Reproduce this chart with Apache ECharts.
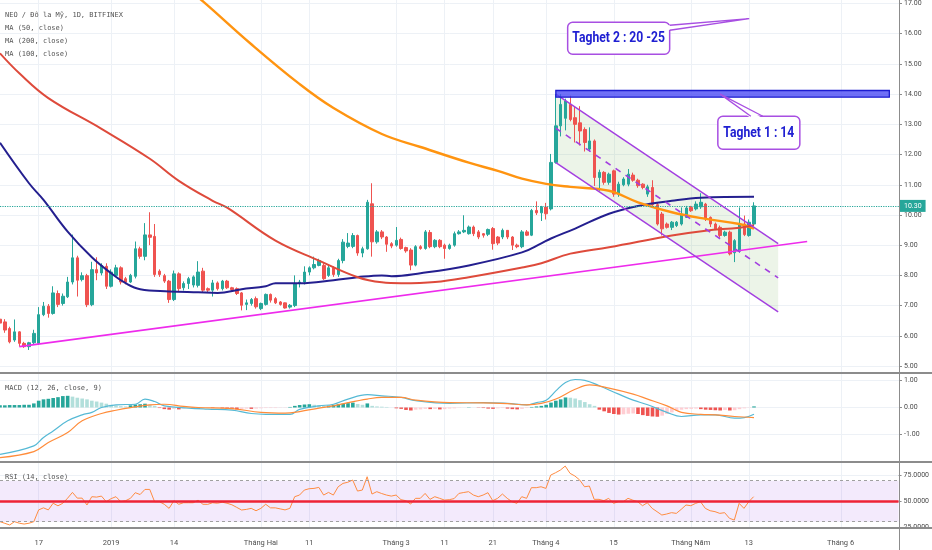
<!DOCTYPE html>
<html><head><meta charset="utf-8">
<script src="https://cdn.jsdelivr.net/npm/echarts@6/dist/echarts.min.js"></script>
<style>html,body{margin:0;padding:0;background:#fff}#c{width:932px;height:550px}</style>
</head><body><div id="c"></div>
<script>
// ---------- categories (daily, 2018-12-09 .. 2019-06-13) ----------
const startYear = 2018, startMonth = 11, startDay = 9;
const dayCount = 187;
const categories = [];
for (let k = 0; k < dayCount; k++) {
  categories.push(new Date(Date.UTC(startYear, startMonth, startDay + k)).toISOString().slice(0, 10));
}
const tickDates = ['2018-12-17','2019-01-01','2019-01-14','2019-02-01','2019-02-11','2019-03-01','2019-03-11','2019-03-21','2019-04-01','2019-04-15','2019-05-01','2019-05-13','2019-06-01'];
const tickLabels = ['17','2019','14','Tháng Hai','11','Tháng 3','11','21','Tháng 4','15','Tháng Năm','13','Tháng 6'];

// ---------- candles ----------
const opens = [6.55,6.46,6.24,5.86,6.13,5.75,5.64,5.77,5.75,6.70,
6.98,6.74,7.40,7.07,7.29,7.78,8.58,7.86,7.99,7.03,
8.19,8.08,8.30,7.64,8.00,8.25,7.89,7.78,7.97,8.88,
8.63,9.34,9.29,8.14,7.99,7.81,7.20,8.05,7.59,7.73,
7.68,7.67,8.14,7.56,7.51,7.75,7.56,7.81,7.59,7.56,
7.42,7.04,7.07,7.23,6.90,7.04,7.37,7.23,7.12,7.09,
6.95,7.00,7.73,7.78,8.11,8.25,8.33,8.33,8.00,8.25,
8.03,8.49,8.96,8.96,9.32,8.74,8.88,10.37,9.11,9.44,
9.27,9.05,9.00,9.19,8.92,8.84,8.34,8.95,8.89,9.42,
8.95,9.16,9.00,8.89,9.00,9.38,9.44,9.38,9.60,9.44,
9.38,9.36,9.55,9.27,9.27,9.49,9.27,9.00,8.95,9.44,
9.33,10.15,10.07,10.26,10.20,11.74,12.95,13.20,13.66,13.22,
13.05,12.83,12.18,12.45,11.24,11.41,11.08,11.46,10.69,11.00,
11.02,11.32,11.15,11.02,10.69,10.91,10.34,10.03,9.70,9.59,
9.65,9.70,9.92,10.25,10.20,10.27,10.36,9.92,9.70,9.59,
9.32,9.43,8.75,8.80,9.70,9.32,9.70];
const closes = [6.42,6.19,5.80,6.13,5.75,5.64,5.77,6.08,6.70,6.98,
6.74,7.42,7.04,7.31,7.78,8.58,7.84,7.99,7.03,8.19,
8.08,8.33,7.64,8.11,8.25,7.78,7.78,8.00,8.88,8.63,
9.34,9.26,8.03,8.03,7.81,7.20,8.05,7.56,7.73,7.89,
7.95,8.11,7.51,7.51,7.75,7.56,7.81,7.59,7.53,7.40,
7.01,7.09,7.20,6.96,7.07,7.37,7.18,7.09,7.04,6.92,
7.01,7.73,7.78,8.11,8.25,8.36,8.49,7.89,8.25,8.03,
8.49,9.10,9.07,9.32,8.74,8.88,10.42,9.11,9.44,9.27,
9.03,8.97,9.16,8.89,8.81,8.34,8.95,8.89,9.44,8.95,
9.16,8.95,8.89,9.00,9.38,9.44,9.49,9.60,9.38,9.27,
9.33,9.52,9.05,9.07,9.49,9.27,9.00,8.95,9.44,9.33,
10.15,10.07,10.26,10.04,11.74,12.95,13.66,13.77,13.16,13.00,
12.78,12.40,12.45,11.24,11.41,11.08,11.35,10.69,11.02,11.19,
11.35,11.15,10.97,10.91,10.93,10.34,9.70,9.54,9.59,9.76,
9.76,10.03,10.23,10.14,10.36,10.42,9.87,9.70,9.54,9.32,
9.43,8.71,9.15,9.70,9.35,9.76,10.30];
const lows = [6.30,6.10,5.75,5.80,5.64,5.60,5.53,5.70,5.70,6.65,
6.60,6.70,6.95,7.00,7.25,7.70,7.30,7.80,6.95,6.98,
7.84,8.00,7.55,7.60,7.95,7.70,7.70,7.75,7.90,8.55,
8.50,9.00,7.95,7.95,7.75,7.09,7.15,7.45,7.50,7.55,
7.60,7.60,7.45,7.45,7.30,7.50,7.50,7.55,7.48,7.35,
6.84,6.85,7.00,6.90,6.85,7.00,7.10,7.05,7.00,6.90,
6.90,6.95,7.60,7.70,8.00,8.20,8.30,7.85,7.95,7.95,
7.95,8.40,8.90,8.90,8.65,8.60,8.85,8.62,9.05,9.20,
8.78,8.90,8.95,8.85,8.75,8.17,8.30,8.85,8.85,8.90,
8.90,8.90,8.55,8.85,8.95,9.35,9.40,9.35,9.30,9.20,
9.25,9.30,8.85,9.00,9.20,9.20,8.84,8.90,8.90,9.30,
9.30,10.00,9.80,9.85,10.15,11.70,12.60,12.80,13.10,12.40,
12.30,12.10,12.10,10.96,10.80,11.00,11.00,10.60,10.60,10.95,
10.95,11.10,10.90,10.85,10.60,10.30,9.65,9.32,9.55,9.50,
9.60,9.65,9.90,10.10,10.15,10.20,9.80,9.60,9.50,9.25,
9.28,8.66,8.44,8.75,9.30,9.28,9.65];
const highs = [6.65,6.55,6.30,6.54,6.15,5.80,5.80,6.20,6.95,7.12,
7.05,7.64,7.50,7.40,7.95,9.35,8.65,8.10,8.05,8.45,
8.60,8.40,8.40,8.20,8.35,8.30,7.95,8.05,9.12,8.95,
9.73,10.09,9.70,8.20,8.05,7.85,8.16,8.10,7.80,7.95,
8.00,8.47,8.25,7.60,7.85,7.80,7.85,7.85,7.62,7.60,
7.45,7.20,7.25,7.30,7.10,7.40,7.40,7.28,7.15,7.10,
7.05,8.00,7.85,8.30,8.30,8.62,8.55,8.40,8.35,8.30,
8.55,9.20,9.40,9.40,9.35,8.95,10.50,11.05,9.50,9.50,
9.30,9.10,9.60,9.25,8.95,8.90,9.00,9.00,9.50,9.50,
9.20,9.20,9.05,9.05,9.45,9.50,9.99,9.65,9.65,9.50,
9.40,9.55,9.60,9.30,9.55,9.50,9.30,9.05,9.50,9.50,
10.20,10.45,10.30,10.40,12.02,14.00,14.00,13.85,13.95,13.60,
13.60,12.90,12.90,12.50,11.50,11.45,11.40,11.50,11.10,11.25,
11.52,11.40,11.20,11.05,11.00,11.15,10.40,10.10,9.75,9.80,
9.80,10.25,10.30,10.30,10.45,10.72,10.40,9.95,9.75,9.65,
9.48,9.48,9.20,10.25,9.98,9.85,10.42];
const lastPrice = 10.30;

// ---------- moving averages, read at [day index, value] ----------
const ma50 = [[0,12.39],[6,11.05],[9,10.5],[14,9.45],[19,8.6],[23,8.07],[26,7.74],[29,7.54],[35,7.47],[41,7.44],[45,7.42],[50,7.54],[55,7.64],[57,7.74],[62,7.74],[69,7.84],[74,7.94],[79,8.0],[81,7.97],[87,8.07],[97,8.33],[108,8.76],[112,9.06],[114,9.22],[119,9.55],[126,10.04],[132,10.3],[139,10.47],[145,10.57],[156,10.6]];
const ma200 = [[39,17.45],[42,17.07],[52,15.65],[62,14.33],[69,13.54],[79,12.68],[87,12.25],[97,11.73],[103,11.46],[108,11.2],[113,11.03],[118,10.93],[126,10.8],[132,10.42],[139,10.09],[146,9.87],[153,9.70],[156,9.55]];
const ma100 = [[0,15.35],[4,14.69],[10,13.87],[21,12.85],[31,11.86],[37,11.13],[44,10.47],[47,10.24],[57,9.15],[66,8.49],[74,7.94],[79,7.77],[83,7.74],[90,7.78],[97,7.94],[108,8.26],[112,8.4],[118,8.72],[126,8.93],[139,9.32],[146,9.48],[153,9.58],[156,9.66]];

// ---------- MACD ----------
const macdHist = [0.08,0.08,0.09,0.09,0.09,0.10,0.10,0.15,0.25,0.30,
0.32,0.35,0.38,0.42,0.43,0.40,0.36,0.33,0.30,0.25,
0.22,0.18,0.14,0.10,0.07,0.05,0.04,0.08,0.11,0.12,
0.14,0.10,0.06,-0.02,-0.06,-0.08,-0.05,-0.07,-0.04,-0.02,
-0.03,-0.05,-0.02,-0.01,-0.02,-0.01,-0.03,-0.05,-0.06,-0.07,
-0.05,-0.04,-0.05,-0.04,-0.03,-0.02,-0.02,-0.02,-0.01,-0.01,
0.02,0.06,0.09,0.11,0.12,0.10,0.08,0.06,0.07,0.10,
0.12,0.14,0.16,0.18,0.13,0.10,0.15,0.06,0.04,0.03,
0.02,0.00,-0.03,-0.05,-0.09,-0.11,-0.08,-0.07,-0.05,-0.06,
-0.05,-0.07,-0.06,-0.04,-0.03,-0.01,0.00,0.01,0.00,-0.01,
-0.02,-0.04,-0.05,-0.03,-0.02,-0.04,-0.06,-0.07,-0.05,-0.02,
0.02,0.04,0.06,0.10,0.18,0.25,0.30,0.37,0.36,0.33,
0.27,0.20,0.12,0.06,-0.08,-0.14,-0.20,-0.24,-0.26,-0.25,
-0.23,-0.22,-0.24,-0.28,-0.31,-0.33,-0.34,-0.30,-0.24,-0.18,
-0.12,-0.08,-0.06,-0.05,-0.04,-0.06,-0.08,-0.09,-0.10,-0.11,
-0.09,-0.11,-0.10,-0.06,-0.03,-0.01,0.04];
const macdLine = [[0,-1.72],[7,-1.41],[9,-1.10],[11,-0.86],[14,-0.49],[17,-0.27],[19,-0.18],[21,0.0],[24,0.10],[28,0.12],[30,0.31],[32,0.22],[34,0.06],[39,-0.02],[43,-0.06],[48,-0.10],[52,-0.22],[55,-0.25],[60,-0.25],[62,-0.07],[66,0.06],[69,0.12],[72,0.31],[76,0.47],[79,0.43],[83,0.37],[86,0.25],[93,0.15],[100,0.18],[105,0.15],[109,0.10],[111,0.18],[113,0.27],[115,0.61],[117,0.92],[119,1.03],[121,1.0],[124,0.8],[128,0.49],[131,0.27],[134,0.10],[138,-0.18],[141,-0.33],[145,-0.27],[148,-0.27],[152,-0.39],[154,-0.37],[156,-0.25]];
const signalLine = [[0,-1.84],[7,-1.62],[10,-1.29],[14,-0.92],[17,-0.49],[21,-0.22],[24,-0.10],[28,0.02],[31,0.10],[34,0.12],[38,0.04],[41,0.0],[48,-0.04],[54,-0.18],[59,-0.21],[62,-0.15],[66,-0.02],[69,0.06],[72,0.18],[76,0.31],[79,0.37],[83,0.37],[86,0.27],[93,0.18],[100,0.17],[105,0.14],[109,0.10],[112,0.15],[115,0.31],[119,0.67],[122,0.83],[126,0.71],[131,0.49],[134,0.31],[138,0.06],[141,-0.18],[145,-0.25],[148,-0.27],[152,-0.33],[156,-0.37]];

// ---------- RSI ----------
const rsi = [30,28.4,26.8,30,28.5,27.7,28.5,30,41.5,43.5,
41.5,48,45.5,48,53,58.6,53,53,46.3,54.4,
54,55,49.5,52.5,54.4,49.5,50.5,52.8,58.3,56.5,
61.5,61.5,49.5,49.5,47,43,50.5,47,48.5,48.5,
48.5,51,47,46.9,48.5,48,49,48,46.5,44,
41.4,42,43,40.7,43,47,43.5,43.5,42.5,41.5,
43,54.4,56,60.9,62.2,62.5,63.5,56,58.6,56,
64.1,67.4,68.5,70.7,59.9,60.9,73.9,57,59.3,57.5,
56,55,56,51.5,50.5,47.2,52.8,52.8,57.6,51.8,
54.4,52.8,51.1,51.5,52.5,57.6,58.5,59.3,56,54.4,
56,58.3,50.5,52.8,57,52.8,49.5,47.9,54.4,52.8,
63.2,63.2,64.1,62.5,75.5,77.8,80.4,84.3,77.2,74.6,
70.7,64.1,64.8,51.8,51.8,50.5,52.8,47.9,49.5,49.5,
52.8,51,49.5,45.6,48.5,43,39.8,36.5,37.5,38.8,
38.1,42,46.3,45.6,47.9,49.5,43,40.7,39.8,38.1,
38.8,33.3,31.6,47.9,43,49.5,54.4];
const rsiUpper = 70, rsiMid = 50, rsiLower = 30;

// ---------- drawings (in [day index, price]) ----------
const channelUpper = [[115,14.0],[161,9.05]];
const channelLower = [[115,11.73],[161,6.79]];
const channelMid = [[115,12.87],[161,7.92]];
const supportLine = [[4,5.64],[167,9.12]];
const targetZone = [[115,14.12],[184,13.9]];
const calloutTexts = ['Taghet 1 : 14','Taghet 2 : 20 -25'];
const calloutTips = [[149,14.0],[155,16.5]];
const calloutBoxes = [[157,12.72],[128,15.85]];

// ---------- build ----------
const candleData = opens.map((o, k) => [o, closes[k], lows[k], highs[k]]);
const tickMap = {};
tickDates.forEach((d, j) => { tickMap[d] = tickLabels[j]; });
const isTick = (idx, val) => tickMap[val] !== undefined;

const UP = '#26a69a', DOWN = '#ef5350';
const PURPLE = '#a33ee0';
const GRIDC = '#edf1f6';
const AXC = '#8c8c8c';
const lblStyle = { fontSize: 7, color: '#4a4a4a', fontFamily: 'Roboto' };

const chart = echarts.init(document.getElementById('c'), null, { renderer: 'canvas' });

function renderFill(params, api) {
  const c = p => api.coord(p);
  return { type: 'polygon', shape: { points: [c(channelUpper[0]), c(channelUpper[1]), c(channelLower[1]), c(channelLower[0])] },
    style: { fill: 'rgba(120,180,95,0.14)', stroke: null } };
}

function renderAnnot(params, api) {
  const c = p => api.coord(p);
  const kids = [];
  const seg = (pts, stroke, w, dash) => ({ type: 'polyline', shape: { points: pts.map(c) },
    style: { stroke: stroke, lineWidth: w, fill: 'none', lineDash: dash || null } });
  kids.push(seg(supportLine, '#ee2bec', 1.6));
  kids.push(seg(channelUpper, PURPLE, 1.4));
  kids.push(seg(channelLower, PURPLE, 1.4));
  kids.push(seg(channelMid, PURPLE, 1.6, [6, 6]));
  const a = c(targetZone[0]), b = c(targetZone[1]);
  kids.push({ type: 'rect', shape: { x: a[0], y: a[1], width: b[0] - a[0], height: b[1] - a[1] },
    style: { fill: 'rgba(72,72,245,0.78)', stroke: '#1d1dd0', lineWidth: 1.3 } });
  const boxSize = [[82, 33], [102, 32]];
  calloutTexts.forEach((txt, k) => {
    const tip = c(calloutTips[k]);
    const bc = c(calloutBoxes[k]);
    const w = boxSize[k][0], h = boxSize[k][1];
    let b1, b2, in1, in2;
    if (k === 0) {
      b1 = [bc[0] - 8, bc[1] - h / 2]; b2 = [bc[0] + 4, bc[1] - h / 2];
      in1 = [b1[0], b1[1] + 2]; in2 = [b2[0], b2[1] + 2];
    } else {
      b1 = [bc[0] + w / 2, bc[1] - 13]; b2 = [bc[0] + w / 2, bc[1] - 8];
      in1 = [b1[0] - 2, b1[1]]; in2 = [b2[0] - 2, b2[1]];
    }
    kids.push({ type: 'rect', shape: { x: bc[0] - w / 2, y: bc[1] - h / 2, width: w, height: h, r: 5 },
      style: { fill: '#ffffff', stroke: '#a84fe2', lineWidth: 1.5 } });
    kids.push({ type: 'polygon', shape: { points: [tip, in1, in2] }, style: { fill: '#ffffff', stroke: null } });
    kids.push({ type: 'polyline', shape: { points: [b1, tip, b2] }, style: { stroke: '#a84fe2', lineWidth: 1.3, fill: 'none' } });
    kids.push({ type: 'text', x: bc[0], y: bc[1] + 0.5, scaleX: 0.81,
      style: { x: 0, y: 0, text: txt, fill: '#2020d2', font: 'bold 15px Roboto', align: 'center', verticalAlign: 'middle', textAlign: 'center', textVerticalAlign: 'middle' } });
  });
  return { type: 'group', children: kids };
}

const xBase = (gi, extra) => Object.assign({
  type: 'category', gridIndex: gi, data: categories, boundaryGap: false,
  axisLine: { show: false }, axisTick: { show: false }, axisLabel: { show: false },
  splitLine: { show: false }, axisPointer: { show: false }
}, extra || {});

const yBase = (gi, min, max, interval, dec, extra) => Object.assign({
  type: 'value', gridIndex: gi, position: 'right', min: min, max: max, interval: interval,
  axisLine: { show: false },
  axisTick: { show: true, length: 3, lineStyle: { color: AXC } },
  axisLabel: Object.assign({ margin: 5, formatter: v => v.toFixed(dec) }, lblStyle),
  splitLine: { show: true, lineStyle: { color: GRIDC, width: 1 } }
}, extra || {});

const option = {
  animation: false,
  backgroundColor: '#ffffff',
  textStyle: { fontFamily: 'Roboto' },
  grid: [
    { left: 0, right: 33, top: 0, height: 528 },
    { left: 0, right: 33, top: 2, height: 364 },
    { left: 0, right: 33, top: 380.3, height: 54.4 },
    { left: 0, right: 33, top: 475.6, height: 51.2 }
  ],
  xAxis: [
    xBase(0, { splitLine: { show: true, interval: isTick, lineStyle: { color: GRIDC, width: 1 } } }),
    xBase(1),
    xBase(2),
    xBase(3, { axisLabel: Object.assign({ show: true, interval: isTick, margin: 12, formatter: v => tickMap[v] || '' }, lblStyle, { fontSize: 7.5, color: '#4f4f4f' }) })
  ],
  yAxis: [
    { type: 'value', gridIndex: 0, show: false, min: 0, max: 1 },
    yBase(1, 5, 17, 1, 2),
    yBase(2, -1, 1, 1, 2),
    yBase(3, 25, 75, 25, 4)
  ],
  series: [
    { type: 'custom', name: 'channelFill', xAxisIndex: 1, yAxisIndex: 1, z: 1, silent: true, data: [[0, 0]], renderItem: renderFill },
    {
      type: 'candlestick', name: 'NEO/USD', xAxisIndex: 1, yAxisIndex: 1, z: 3, barWidth: 3,
      data: candleData,
      itemStyle: { color: UP, color0: DOWN, borderColor: UP, borderColor0: DOWN, borderWidth: 1 },
      markLine: {
        silent: true, symbol: 'none', animation: false,
        lineStyle: { color: UP, type: 'dotted', width: 1.2 },
        label: { show: true, position: 'end', distance: 1, formatter: () => lastPrice.toFixed(2),
          backgroundColor: UP, color: '#fff', padding: [3, 4, 2, 4], fontSize: 7, fontFamily: 'Roboto' },
        data: [{ yAxis: lastPrice }]
      }
    },
    { type: 'line', name: 'MA (50, close)', xAxisIndex: 1, yAxisIndex: 1, z: 4, data: ma50, smooth: 0.4, showSymbol: false, clip: false, lineStyle: { color: '#241f8f', width: 2 } },
    { type: 'line', name: 'MA (200, close)', xAxisIndex: 1, yAxisIndex: 1, z: 4, data: ma200, smooth: 0.4, showSymbol: false, clip: false, lineStyle: { color: '#ff9410', width: 2.4 } },
    { type: 'line', name: 'MA (100, close)', xAxisIndex: 1, yAxisIndex: 1, z: 4, data: ma100, smooth: 0.4, showSymbol: false, clip: false, lineStyle: { color: '#de4a3b', width: 2 } },
    { type: 'custom', name: 'drawings', xAxisIndex: 1, yAxisIndex: 1, z: 10, silent: true, data: [[0, 0]], renderItem: renderAnnot },
    {
      type: 'bar', name: 'Histogram', xAxisIndex: 2, yAxisIndex: 2, barWidth: 3.6, clip: false,
      data: macdHist,
      itemStyle: { color: p => {
        const v = macdHist[p.dataIndex], pr = p.dataIndex > 0 ? macdHist[p.dataIndex - 1] : v;
        if (v >= 0) return v >= pr ? UP : '#b2dfdb';
        return v < pr ? DOWN : '#ffcdd2';
      } }
    },
    { type: 'line', name: 'MACD', xAxisIndex: 2, yAxisIndex: 2, data: macdLine, smooth: 0.4, showSymbol: false, clip: false, lineStyle: { color: '#55b9d5', width: 1.2 } },
    { type: 'line', name: 'Signal', xAxisIndex: 2, yAxisIndex: 2, data: signalLine, smooth: 0.4, showSymbol: false, clip: false, lineStyle: { color: '#ff8c3a', width: 1.2 } },
    {
      type: 'line', name: 'RSI', xAxisIndex: 3, yAxisIndex: 3, data: rsi, showSymbol: false, clip: false,
      lineStyle: { color: '#ff8c42', width: 1 },
      markArea: { silent: true, itemStyle: { color: 'rgba(155,80,230,0.12)' }, data: [[{ yAxis: rsiLower }, { yAxis: rsiUpper }]] },
      markLine: {
        silent: true, symbol: 'none', label: { show: false },
        data: [
          { yAxis: rsiUpper, lineStyle: { color: '#a0a0a0', type: [3, 3], width: 1 } },
          { yAxis: rsiLower, lineStyle: { color: '#a0a0a0', type: [3, 3], width: 1 } },
          { yAxis: rsiMid, lineStyle: { color: '#ee2336', type: 'solid', width: 2.5 } }
        ]
      }
    }
  ],
  graphic: [
    { type: 'line', z: 100, shape: { x1: 899.5, y1: 0, x2: 899.5, y2: 550 }, style: { stroke: AXC, lineWidth: 1 } },
    { type: 'rect', z: 100, shape: { x: 0, y: 372, width: 932, height: 2 }, style: { fill: AXC } },
    { type: 'rect', z: 100, shape: { x: 0, y: 461, width: 932, height: 2 }, style: { fill: AXC } },
    { type: 'rect', z: 100, shape: { x: 0, y: 527, width: 932, height: 2 }, style: { fill: AXC } },
    { type: 'text', z: 100, x: 5, y: 15, style: { text: 'NEO / Đô la Mỹ, 1D, BITFINEX', fill: '#555', font: '7px "DejaVu Sans Mono"', verticalAlign: 'middle' } },
    { type: 'text', z: 100, x: 5, y: 28, style: { text: 'MA (50, close)', fill: '#555', font: '7px "DejaVu Sans Mono"', verticalAlign: 'middle' } },
    { type: 'text', z: 100, x: 5, y: 41, style: { text: 'MA (200, close)', fill: '#555', font: '7px "DejaVu Sans Mono"', verticalAlign: 'middle' } },
    { type: 'text', z: 100, x: 5, y: 54, style: { text: 'MA (100, close)', fill: '#555', font: '7px "DejaVu Sans Mono"', verticalAlign: 'middle' } },
    { type: 'text', z: 100, x: 5, y: 388, style: { text: 'MACD (12, 26, close, 9)', fill: '#555', font: '7px "DejaVu Sans Mono"', verticalAlign: 'middle' } },
    { type: 'text', z: 100, x: 5, y: 477, style: { text: 'RSI (14, close)', fill: '#555', font: '7px "DejaVu Sans Mono"', verticalAlign: 'middle' } }
  ]
};
chart.setOption(option);
</script>
</body></html>
